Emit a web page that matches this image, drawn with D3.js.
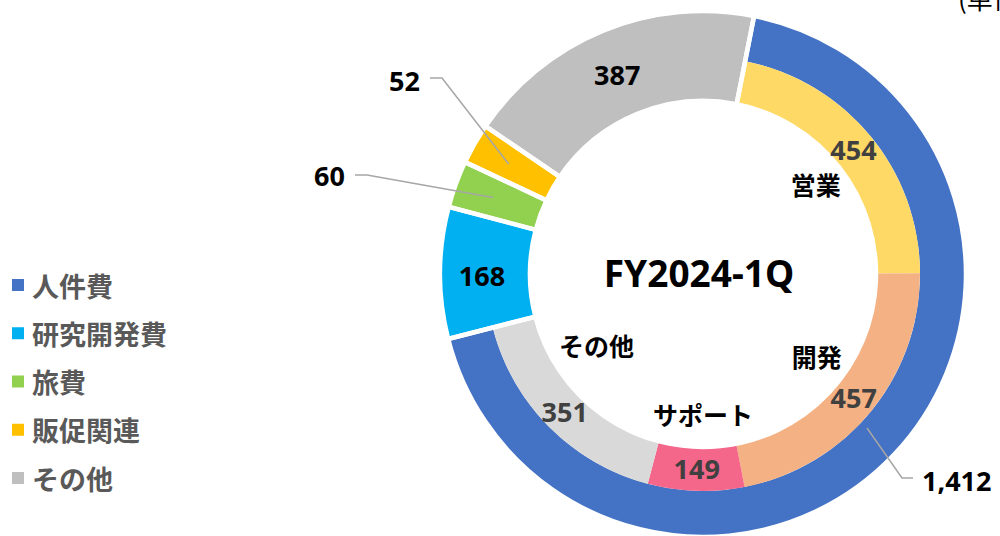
<!DOCTYPE html>
<html>
<head>
<meta charset="utf-8">
<script src="https://cdn.jsdelivr.net/npm/d3@7/dist/d3.min.js"></script>
<style>
  html, body { margin: 0; padding: 0; background: #fff; }
  svg { display: block; }
</style>
</head>
<body>
<svg id="chart" width="1000" height="536"></svg>
<script>
// ---- data ----
const categories = ['人件費', '研究開発費', '旅費', '販促関連', 'その他'];
const values = [1412, 168, 60, 52, 387];
const valueLabels = ['1,412', '168', '60', '52', '387'];
const catColors = ['#4472C4', '#00B0F0', '#92D050', '#FFC000', '#BFBFBF'];

const subCategories = ['営業', '開発', 'サポート', 'その他'];
const subValues = [454, 457, 149, 351];
const subColors = ['#FFD966', '#F4B183', '#F4668A', '#D9D9D9'];

const centerTitle = 'FY2024-1Q';
const unitText = '(単位：百万円)';

// ---- layout ----
const svg = d3.select('#chart');
const cx = 703, cy = 274;
const rIn = 173, rMid = 217, rOut = 263;
const startDeg = 11.2;
const total = d3.sum(values);
const angle = d3.scaleLinear().domain([0, total])
  .range([startDeg * Math.PI / 180, startDeg * Math.PI / 180 + 2 * Math.PI]);

const g = svg.append('g').attr('transform', `translate(${cx},${cy})`);

// top-level slices
let acc = 0;
const slices = values.map((v, i) => {
  const s = { i, value: v, startAngle: angle(acc), endAngle: angle(acc + v) };
  acc += v;
  return s;
});
// sub slices of 人件費
let acc2 = 0;
const subSlices = subValues.map((v, i) => {
  const s = { i, value: v, startAngle: angle(acc2), endAngle: angle(acc2 + v) };
  acc2 += v;
  return s;
});

const arcFull = d3.arc().innerRadius(rIn).outerRadius(rOut);
const arcOuter = d3.arc().innerRadius(rMid).outerRadius(rOut);
const arcInner = d3.arc().innerRadius(rIn).outerRadius(rMid);

// fills
slices.forEach(s => {
  if (s.i === 0) {
    g.append('path').attr('d', arcOuter(s)).attr('fill', catColors[0]);
  } else {
    g.append('path').attr('d', arcFull(s)).attr('fill', catColors[s.i]);
  }
});
subSlices.forEach(s => {
  g.append('path').attr('d', arcInner(s)).attr('fill', subColors[s.i]);
});
// white separators between top-level categories
slices.forEach(s => {
  g.append('path').attr('d', arcFull(s)).attr('fill', 'none')
    .attr('stroke', '#fff').attr('stroke-width', 4.5).attr('stroke-linejoin', 'miter');
});

const numFont = "'Noto Sans', 'Open Sans', sans-serif";
const cjkFont = "'Noto Sans CJK JP', 'Noto Sans', sans-serif";

// sub values at centroids
subSlices.forEach(s => {
  const [x, y] = arcInner.centroid(s);
  g.append('text').attr('x', x).attr('y', y)
    .attr('text-anchor', 'middle').attr('dominant-baseline', 'central')
    .attr('font-family', numFont).attr('font-weight', 700).attr('font-size', 27)
    .attr('fill', '#404040').text(subValues[s.i]);
});

// sub names inside the hole
const nameAnglesDeg = [51.5, 125.7, 180, 236.4];
const nameRadii = [144, 140, 140, 128];
subSlices.forEach(s => {
  const [x, y] = d3.pointRadial(nameAnglesDeg[s.i] * Math.PI / 180, nameRadii[s.i]);
  g.append('text').attr('x', x).attr('y', y)
    .attr('text-anchor', 'middle').attr('dominant-baseline', 'central')
    .attr('font-family', cjkFont).attr('font-weight', 700).attr('font-size', 25)
    .attr('fill', '#000').text(subCategories[s.i]);
});

// top-level value labels
const outsideLabels = {
  0: { pos: [219, 206], elbow: [199, 204], anchor: 'start', from: [164, 154] },
  2: { pos: [-358, -99], elbow: [-348, -99], anchor: 'end', from: null },
  3: { pos: [-283, -194], elbow: [-273, -196], anchor: 'end', from: null }
};
slices.forEach(s => {
  const i = s.i;
  if (outsideLabels[i]) {
    const o = outsideLabels[i];
    const c = o.from ? o.from : arcFull.centroid(s).map((d, k) => d + (k === 0 ? -5 : -2));
    let pts;
    if (i === 0) {
      pts = [c, [o.elbow[0], o.elbow[1]], [o.elbow[0] + 11, o.elbow[1]]];
    } else {
      pts = [c, [o.elbow[0] + 12, o.elbow[1]], [o.elbow[0], o.elbow[1]]];
    }
    g.append('path').attr('d', d3.line()(pts)).attr('fill', 'none')
      .attr('stroke', '#A6A6A6').attr('stroke-width', 1.5);
    g.append('text').attr('x', o.pos[0]).attr('y', o.pos[1])
      .attr('text-anchor', o.anchor).attr('dominant-baseline', 'central')
      .attr('font-family', numFont).attr('font-weight', 700).attr('font-size', 27)
      .attr('fill', '#000').text(valueLabels[i]);
  } else {
    const [x, y] = arcFull.centroid(s);
    g.append('text').attr('x', x - 3).attr('y', y + 2)
      .attr('text-anchor', 'middle').attr('dominant-baseline', 'central')
      .attr('font-family', numFont).attr('font-weight', 700).attr('font-size', 27)
      .attr('fill', '#000').text(valueLabels[i]);
  }
});

// center title
g.append('text').attr('x', -4).attr('y', -2)
  .attr('text-anchor', 'middle').attr('dominant-baseline', 'central')
  .attr('font-family', numFont).attr('font-weight', 700).attr('font-size', 37)
  .attr('fill', '#000').text(centerTitle);

// legend
const legend = svg.append('g').attr('transform', 'translate(12,285)');
const legY = d3.scalePoint().domain(categories).range([0, 193]);
categories.forEach((c, i) => {
  const row = legend.append('g').attr('transform', `translate(0,${legY(c)})`);
  row.append('rect').attr('x', 0).attr('y', -6).attr('width', 12).attr('height', 12)
    .attr('fill', catColors[i]);
  row.append('text').attr('x', 20).attr('y', 0).attr('dominant-baseline', 'central')
    .attr('font-family', cjkFont).attr('font-weight', 700).attr('font-size', 27)
    .attr('fill', '#595959').text(c);
});

// unit text (cut off at right edge, as in the original)
svg.append('text').attr('x', 958).attr('y', 9)
  .attr('font-family', cjkFont).attr('font-size', 26).attr('fill', '#000')
  .text(unitText);
</script>
</body>
</html>
